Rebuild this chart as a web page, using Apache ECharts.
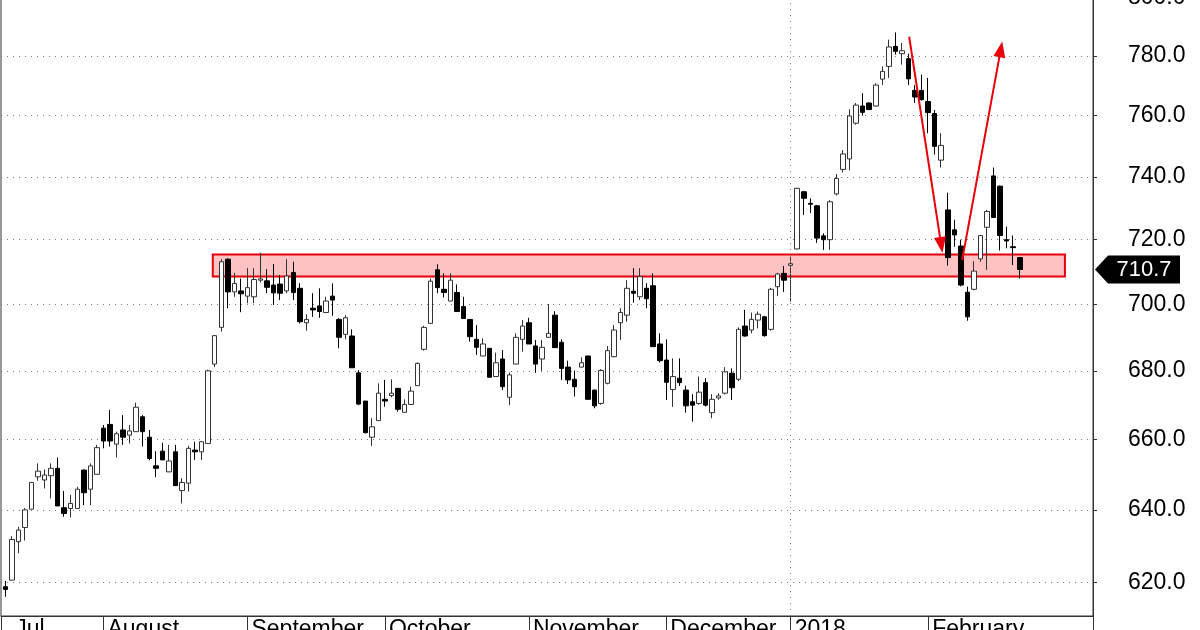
<!DOCTYPE html>
<html><head><meta charset="utf-8">
<script src="https://cdn.jsdelivr.net/npm/echarts@6/dist/echarts.min.js"></script>
<style>html,body{margin:0;padding:0;background:#fff}#c{width:1200px;height:630px}</style>
</head><body><div id="c"></div>
<script>
// ---- data (daily candles, Jul 2017 - Feb 2018) ----
const months = ['Jul','August','September','October','November','December','2018','February'];
const monthLabelAt = [0.9, 15, 37, 58, 80, 101, 120, 141];   // candle index where each month label sits
const monthStart = [15, 37, 58, 80, 101, 120, 141];          // first candle of each month
const yearLineAt = 120;
const yTicks = [620, 640, 660, 680, 700, 720, 740, 760, 780, 800];

const opens = [618.9,620.7,631.2,635.1,640.2,649.3,648.4,649.6,651.7,640.6,
640.4,640.4,651.2,645.8,650.0,663.2,664.3,658.6,662.7,661.2,
662.2,666.5,660.6,652.4,656.6,650.7,656.4,645.4,647.5,656.9,
656.4,658.8,682.0,693.0,713.9,703.8,704.1,702.5,702.3,707.4,
707.2,705.9,706.2,704.1,709.8,704.9,694.4,698.8,699.5,697.5,
702.5,695.4,690.9,690.4,679.4,671.1,660.6,665.4,671.6,672.7,
674.8,667.8,670.1,675.6,686.4,694.2,710.6,704.6,701.0,703.6,
699.3,695.4,689.4,684.4,686.7,678.3,683.5,672.2,682.0,689.4,
694.4,687.4,683.5,690.0,696.7,688.5,681.1,677.5,681.1,684.4,
674.3,670.4,676.3,684.2,694.4,696.7,704.0,702.3,704.9,705.7,
688.0,683.2,674.5,677.8,674.3,670.9,670.4,676.5,667.7,672.0,
673.4,679.3,677.5,693.4,692.2,695.2,696.2,692.4,705.4,709.5,
712.0,717.1,735.2,731.5,730.7,721.2,720.0,734.5,742.4,745.8,
757.5,763.2,764.2,763.2,772.2,776.5,783.3,780.8,779.1,768.4,
768.4,764.7,760.7,745.4,729.4,723.1,718.0,703.7,704.6,714.0,
723.9,740.3,737.0,720.0,717.8,714.4];
const closes = [618.2,631.8,634.4,640.0,647.7,650.9,649.8,651.7,641.1,639.0,
641.8,645.8,644.8,652.4,657.6,659.5,659.5,661.6,660.6,662.4,
669.3,662.2,654.5,651.7,654.1,653.8,646.8,647.7,657.4,656.4,
659.3,680.0,690.5,713.1,703.8,706.4,703.2,705.1,707.6,707.8,
705.2,703.5,703.4,708.7,703.6,694.7,695.4,698.3,697.8,701.0,
701.3,690.0,695.9,680.9,670.2,661.9,663.6,673.4,671.1,673.4,
668.7,670.1,674.0,682.2,693.0,707.1,705.1,703.6,707.4,697.8,
695.7,690.2,687.0,688.0,678.1,682.4,675.3,678.8,690.0,693.4,
688.0,682.0,687.0,691.2,686.9,680.7,677.3,675.3,682.4,671.6,
669.7,680.1,686.0,692.2,697.5,704.9,703.4,708.5,701.7,687.2,
683.0,676.6,678.3,676.5,669.7,669.9,673.7,669.9,671.6,672.6,
679.7,675.0,692.4,690.4,695.4,697.0,690.5,704.6,709.3,707.4,
712.5,736.3,733.1,731.2,720.5,720.0,732.0,739.5,747.4,759.9,
763.5,761.1,762.0,770.2,774.8,783.1,781.6,781.8,772.3,766.2,
765.3,761.0,749.9,750.2,714.4,721.5,705.9,696.2,710.2,721.3,
728.9,727.0,721.3,719.6,717.5,710.7];
const lows = [616.2,620.7,628.0,631.5,640.2,648.2,646.0,643.2,641.1,638.1,
637.9,640.4,641.3,641.3,650.0,657.4,657.9,654.8,658.4,658.8,
662.2,657.9,654.0,649.2,654.1,650.7,646.8,641.8,645.1,654.1,
654.1,658.8,681.1,691.7,698.8,702.3,697.6,700.3,700.3,706.7,
703.4,699.8,701.3,703.4,701.3,694.2,692.0,696.2,695.9,697.5,
696.5,686.7,689.4,680.9,669.9,661.7,658.1,665.4,669.4,672.2,
668.0,667.7,670.1,675.6,686.0,694.2,703.4,702.1,701.0,697.8,
695.7,688.7,684.7,684.4,678.1,678.3,674.3,669.9,682.0,685.7,
688.0,679.4,680.0,690.0,686.9,677.3,676.1,672.4,681.0,671.6,
669.0,670.0,676.0,684.0,689.2,694.7,700.5,701.3,698.8,687.2,
682.5,671.4,669.4,675.5,667.7,665.1,670.0,669.5,666.1,671.5,
673.0,671.4,677.0,690.2,691.2,692.7,690.2,692.0,702.5,703.8,
700.8,717.0,727.8,728.4,719.0,716.8,716.8,734.0,741.4,742.1,
757.0,760.0,762.0,763.0,770.2,772.6,780.5,777.1,770.2,764.2,
765.0,754.2,747.2,743.0,711.9,717.8,705.5,695.0,704.3,713.1,
710.6,727.0,716.6,717.3,712.1,707.9];
const highs = [620.5,632.7,635.3,640.5,647.8,653.1,651.4,653.1,654.8,645.3,
644.2,646.5,651.4,653.1,658.4,664.1,668.5,662.2,667.0,664.1,
670.6,667.0,662.7,656.6,659.0,658.4,658.4,648.9,658.1,659.3,
659.5,680.3,690.7,713.9,714.2,709.7,707.9,711.2,711.1,715.9,
710.8,712.4,709.0,713.9,713.1,706.5,697.0,703.4,704.9,702.3,
706.4,695.8,696.7,692.4,680.2,671.1,666.1,676.3,677.3,677.5,
675.0,671.6,675.3,682.5,693.5,707.9,712.3,709.5,709.5,706.1,
702.3,695.5,693.7,689.7,686.7,685.4,686.2,679.5,691.2,695.2,
695.9,689.2,689.2,700.1,697.9,689.4,683.0,680.1,684.0,684.5,
674.5,680.5,687.4,693.7,698.8,707.4,711.1,711.1,706.5,709.5,
691.2,689.4,683.7,683.7,675.6,673.1,678.3,677.8,673.1,673.4,
681.1,680.7,693.0,698.3,697.5,697.8,696.5,705.0,709.7,711.8,
714.7,736.5,735.5,733.1,731.0,722.0,732.5,740.9,748.7,762.1,
764.2,767.5,764.4,770.8,776.5,785.6,788.1,784.5,780.8,770.2,
773.7,772.6,761.9,754.2,734.9,726.3,720.0,705.4,713.3,721.5,
729.4,743.0,737.2,724.1,721.3,714.5];

// annotations (in data units: candle index, price)
const zoneX = [31.7, 161.9];
const zoneY = [708.5, 715.4];
const arrowDown = [[138.1, 786.6], [143.0, 718.3]];
const arrowUp = [[146.2, 713.6], [152.1, 782.3]];
const lastPrice = closes[closes.length - 1];

// ---- chart ----
const L = Math.log;   // price axis is logarithmic
const FONT = "'Liberation Sans', Arial, sans-serif";
const xMin = -0.657, xMax = 166.19;
const yMin = 611.07, yMax = 810.17;
const RED = '#e8000b';
const dotted = { type: [1, 5], color: '#777', width: 1 };

const candles = opens.map((o, i) => [i, L(o), L(closes[i]), L(lows[i]), L(highs[i])]);

const chart = echarts.init(document.getElementById('c'), null, { renderer: 'canvas' });
const option = {
  animation: false,
  backgroundColor: '#fff',
  grid: { left: 1, right: 107, top: -31, bottom: 14, show: true, borderColor: '#333', borderWidth: 1,
          containLabel: false, outerBoundsMode: 'none' },
  xAxis: {
    type: 'value', min: xMin, max: xMax,
    splitLine: { show: false },
    axisLine: { show: true, onZero: false, lineStyle: { color: '#333' } },
    axisTick: { show: true, customValues: [xMin].concat(monthStart, [xMax]), length: 16, lineStyle: { color: '#333' } },
    axisLabel: {
      show: true, customValues: monthLabelAt,
      formatter: v => { const k = monthLabelAt.findIndex(p => Math.abs(p - v) < 1e-6); return k >= 0 ? months[k] : ''; },
      align: 'left', verticalAlign: 'top', padding: [0, 0, 0, 4], margin: 2,
      color: '#000', fontSize: 23, fontFamily: FONT
    }
  },
  yAxis: {
    type: 'value', position: 'right', min: L(yMin), max: L(yMax),
    axisLine: { show: true, onZero: false, lineStyle: { color: '#333' } },
    axisTick: { show: true, customValues: yTicks.map(L), length: 4, lineStyle: { color: '#333' } },
    axisLabel: {
      customValues: yTicks.map(L), formatter: v => Math.exp(v).toFixed(1),
      margin: 35, align: 'left', color: '#000', fontSize: 23, fontFamily: FONT
    },
    splitLine: { show: true, lineStyle: dotted }
  },
  series: [{
    type: 'candlestick',
    data: candles,
    encode: { x: 0, y: [1, 2, 3, 4] },
    barWidth: 5,
    itemStyle: { color: '#fff', color0: '#000', borderColor: '#333', borderColor0: '#000', borderWidth: 1 },
    markArea: {
      silent: true,
      itemStyle: { color: 'rgba(255,0,0,0.24)', borderColor: RED, borderWidth: 2 },
      data: [[{ coord: [zoneX[0], L(zoneY[1])] }, { coord: [zoneX[1], L(zoneY[0])] }]]
    },
    markLine: {
      silent: true,
      symbol: ['none', 'none'],
      label: { show: false },
      lineStyle: { color: RED, width: 2, type: 'solid' },
      data: [
        { xAxis: yearLineAt, lineStyle: dotted },
        [{ coord: [arrowDown[0][0], L(arrowDown[0][1])], symbol: 'none' },
         { coord: [arrowDown[1][0], L(arrowDown[1][1])], symbol: 'triangle', symbolSize: [12, 16] }],
        [{ coord: [arrowUp[0][0], L(arrowUp[0][1])], symbol: 'none' },
         { coord: [arrowUp[1][0], L(arrowUp[1][1])], symbol: 'triangle', symbolSize: [12, 16] }]
      ]
    }
  }]
};
chart.setOption(option);

// last-price tag on the price axis
const pt = chart.convertToPixel({ xAxisIndex: 0, yAxisIndex: 0 }, [opens.length - 1, L(lastPrice)]);
const py = pt[1];
chart.setOption({
  graphic: [
    { type: 'polygon', shape: { points: [[1095, py], [1108, py - 14], [1180, py - 14], [1180, py + 14], [1108, py + 14]] },
      style: { fill: '#000' }, z: 100 },
    { type: 'text', x: 1144, y: py, z: 101,
      style: { text: lastPrice.toFixed(1), fill: '#fff', font: '22px ' + FONT, align: 'center', verticalAlign: 'middle' } }
  ]
});
</script></body></html>
